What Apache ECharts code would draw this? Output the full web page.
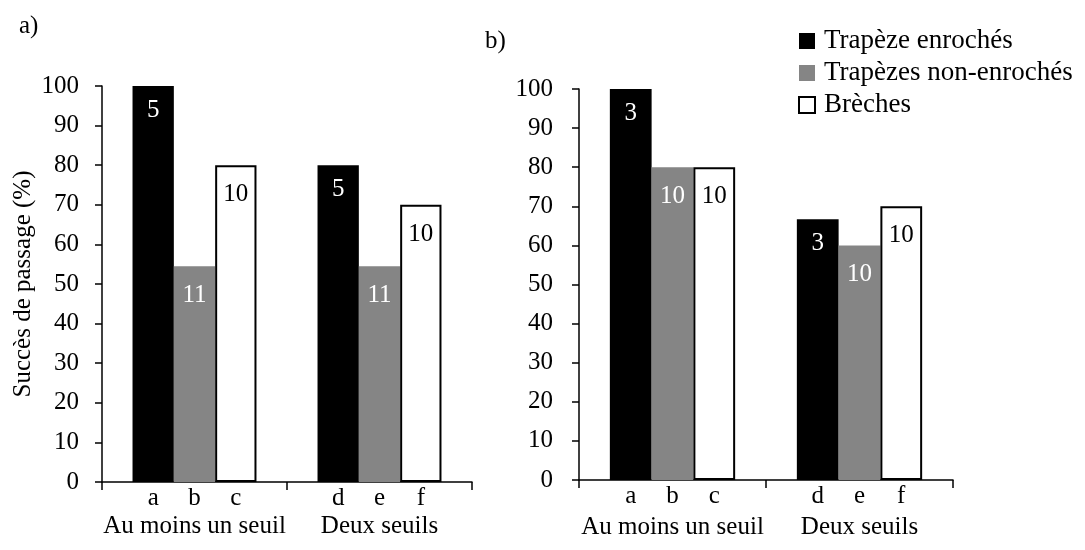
<!DOCTYPE html>
<html>
<head>
<meta charset="utf-8">
<script src="https://cdn.jsdelivr.net/npm/echarts@6/dist/echarts.min.js"></script>
<style>html,body{margin:0;padding:0;background:#fff;}#c{width:1085px;height:550px;}</style>
</head>
<body>
<div id="c"></div>
<script>
// ---- data ----
const groups = ['Au moins un seuil', 'Deux seuils'];
const seriesNames = ['Trapèze enrochés', 'Trapèzes non-enrochés', 'Brèches'];
// panel a)
const aEnroches = [100, 80];
const aNonEnroches = [54.5, 54.5];
const aBreches = [80, 70];
const aCountsEnroches = [5, 5];
const aCountsNonEnroches = [11, 11];
const aCountsBreches = [10, 10];
// panel b)
const bEnroches = [100, 66.7];
const bNonEnroches = [80, 60];
const bBreches = [80, 70];
const bCountsEnroches = [3, 3];
const bCountsNonEnroches = [10, 10];
const bCountsBreches = [10, 10];
// bar letters
const lettersEnroches = ['a', 'd'];
const lettersNonEnroches = ['b', 'e'];
const lettersBreches = ['c', 'f'];
const yMin = 0, yMax = 100, yStep = 10;

// ---- styles ----
const FONT = "'Liberation Serif', 'Times New Roman', 'DejaVu Serif', serif";
const colors = ['#000000', '#858585', '#ffffff'];
const labelColors = ['#ffffff', '#ffffff', '#000000'];
const labelDist = [12, 17, 17];

const chart = echarts.init(document.getElementById('c'));

function panelSeries(idx, vals, counts, letters) {
  const out = [];
  for (let i = 0; i < 3; i++) {
    out.push({
      type: 'bar', name: 'lettre' + idx + i, xAxisIndex: idx, yAxisIndex: idx,
      stack: 's' + idx + i, data: groups.map(() => 0),
      barGap: '0%', barCategoryGap: '33%',
      itemStyle: { color: 'transparent' },
      silent: true,
      label: {
        show: true, position: 'bottom', distance: 4,
        fontFamily: FONT, fontSize: 25, color: '#000',
        formatter: p => letters[i][p.dataIndex]
      }
    });
  }
  for (let i = 0; i < 3; i++) {
    out.push({
      type: 'bar', name: seriesNames[i], xAxisIndex: idx, yAxisIndex: idx,
      stack: 's' + idx + i, data: vals[i],
      barGap: '0%', barCategoryGap: '33%',
      itemStyle: { color: colors[i], borderColor: '#000', borderWidth: i === 2 ? 2 : 0 },
      label: {
        show: true, position: 'insideTop', distance: labelDist[i],
        fontFamily: FONT, fontSize: 25, color: labelColors[i],
        formatter: p => String(counts[i][p.dataIndex])
      }
    });
  }
  return out;
}

function xAx(idx, margin) {
  return {
    type: 'category', gridIndex: idx, data: groups,
    axisLine: { lineStyle: { color: '#000', width: 1.5 } },
    axisTick: { show: true, length: 8, lineStyle: { color: '#000', width: 1.5 } },
    axisLabel: { interval: 0, hideOverlap: false, fontFamily: FONT, fontSize: 25, color: '#000', margin: margin }
  };
}
function yAx(idx, margin, name) {
  return {
    type: 'value', gridIndex: idx, min: yMin, max: yMax, interval: yStep,
    name: name, nameLocation: 'middle', nameGap: 66, nameRotate: 90,
    nameTextStyle: { fontFamily: FONT, fontSize: 25, color: '#000' },
    axisLine: { show: true, lineStyle: { color: '#000', width: 1.5 } },
    axisTick: { show: true, length: 7, lineStyle: { color: '#000', width: 1.5 } },
    splitLine: { show: false },
    axisLabel: { fontFamily: FONT, fontSize: 25, color: '#000', margin: margin }
  };
}

const option = {
  backgroundColor: '#fff',
  animation: false,
  textStyle: { fontFamily: FONT },
  title: [
    { text: 'a)', left: 14, top: 9, textStyle: { fontFamily: FONT, fontSize: 25, fontWeight: 'normal', color: '#000' } },
    { text: 'b)', left: 480, top: 24, textStyle: { fontFamily: FONT, fontSize: 25, fontWeight: 'normal', color: '#000' } }
  ],
  legend: {
    data: seriesNames, orient: 'vertical', left: 793, top: 22,
    itemWidth: 16, itemHeight: 16, itemGap: 4,
    icon: 'rect',
    textStyle: { fontFamily: FONT, fontSize: 27, color: '#000', padding: [0, 0, 0, 4], lineHeight: 28 }
  },
  grid: [
    { left: 102, top: 86, width: 370, height: 396 },
    { left: 579, top: 89, width: 374, height: 391 }
  ],
  xAxis: [xAx(0, 32), xAx(1, 35)],
  yAxis: [yAx(0, 23, 'Succès de passage (%)'), yAx(1, 26, '')],
  series: [
    ...panelSeries(0, [aEnroches, aNonEnroches, aBreches],
      [aCountsEnroches, aCountsNonEnroches, aCountsBreches],
      [lettersEnroches, lettersNonEnroches, lettersBreches]),
    ...panelSeries(1, [bEnroches, bNonEnroches, bBreches],
      [bCountsEnroches, bCountsNonEnroches, bCountsBreches],
      [lettersEnroches, lettersNonEnroches, lettersBreches])
  ]
};
chart.setOption(option);
</script>
</body>
</html>
